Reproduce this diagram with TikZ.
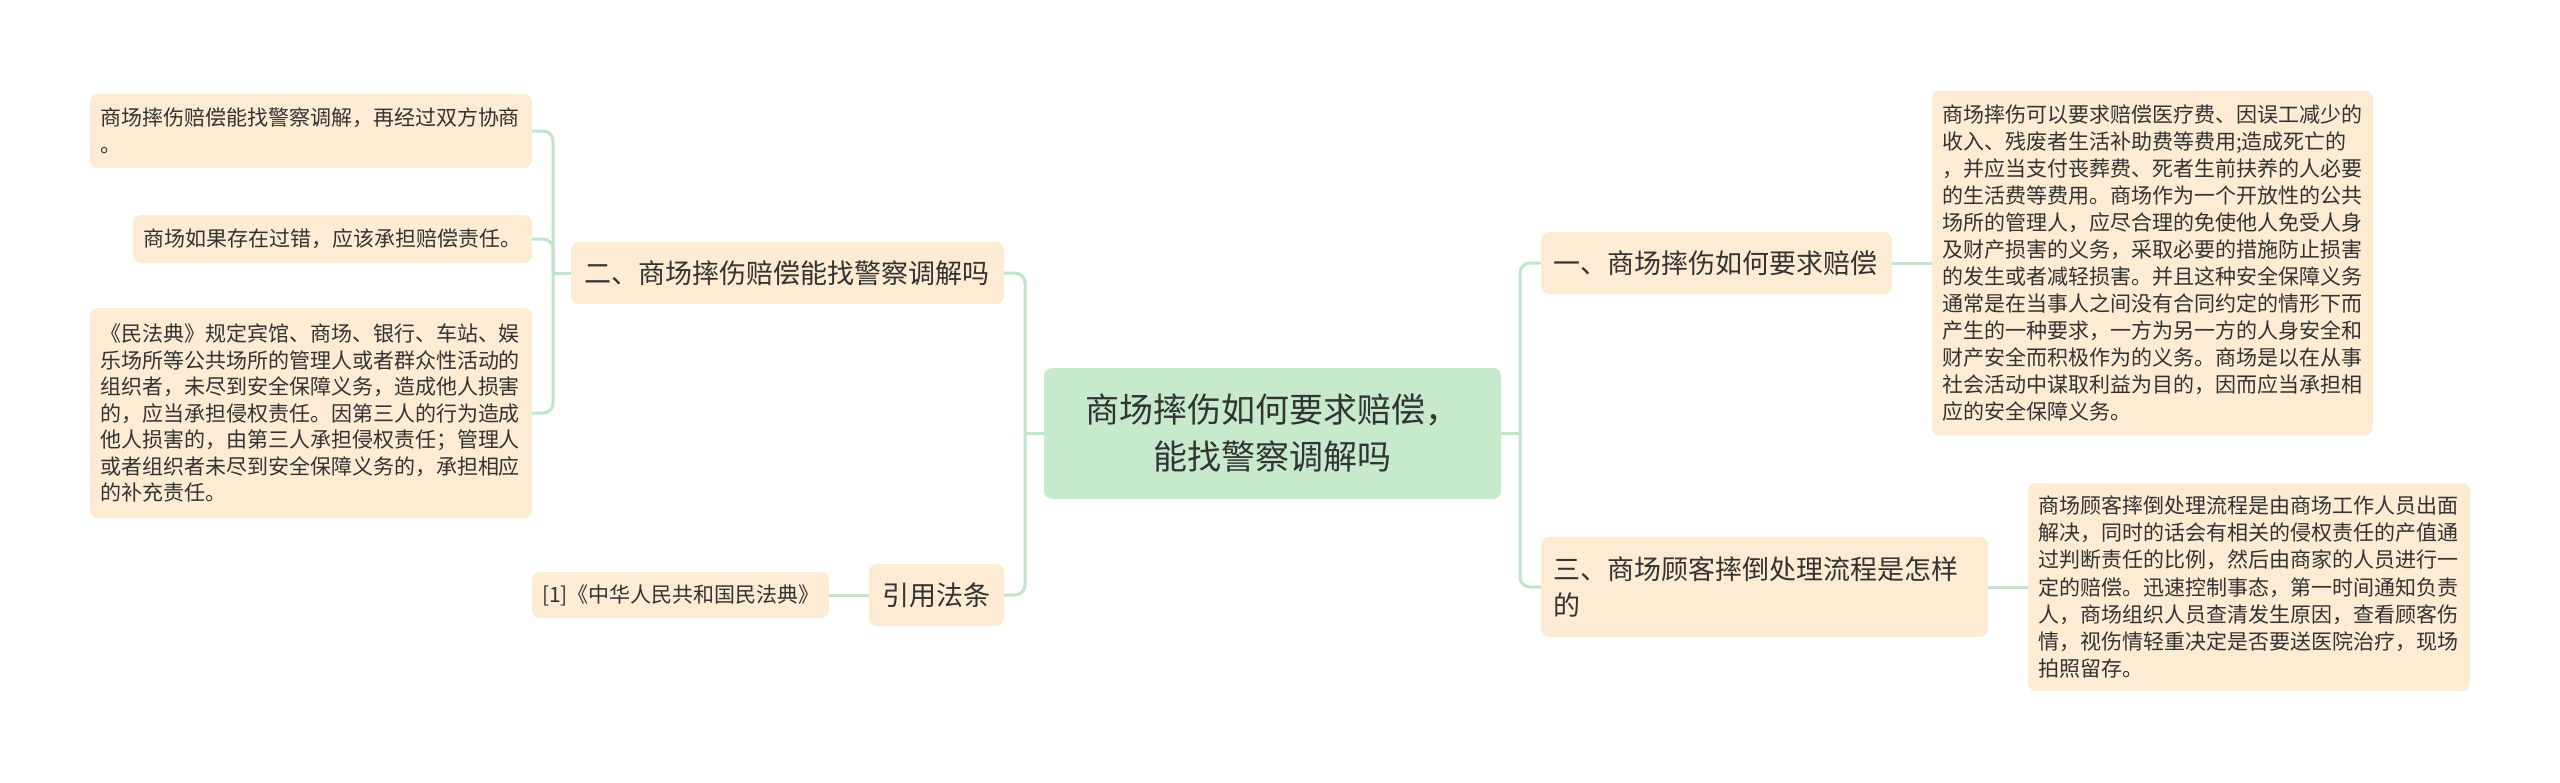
\documentclass[tikz,border=0pt]{standalone}
\usepackage{fontspec}
\setmainfont{Noto Sans CJK SC}
\usetikzlibrary{arrows.meta}
\definecolor{peach}{HTML}{FDEBD4}
\definecolor{rootg}{HTML}{C6EACB}
\definecolor{linkc}{HTML}{C0E5C9}
\definecolor{ink}{HTML}{333333}

\begin{document}
\begin{tikzpicture}[x=1pt,y=-1pt,
  box/.style={fill=peach,rounded corners=8pt,text=ink,inner ysep=0pt},
  leaf/.style={box,align=left,inner xsep=10pt,font=\fontsize{21}{27}\selectfont},
  branch/.style={box,align=left,inner xsep=12pt,minimum height=62pt,font=\fontsize{27}{36}\selectfont},
  rootbox/.style={fill=rootg,rounded corners=8pt,text=ink,align=center,font=\fontsize{34}{47}\selectfont},
  link/.style={draw=linkc,line width=3pt,rounded corners=10pt}]
  \useasboundingbox (0,0) rectangle (2560,782);
  % tema central
  \node[rootbox,minimum width=457pt,minimum height=131pt] (root) at (1272.5,433.5){商场摔伤如何要求赔偿，\\能找警察调解吗};
  % --- lado derecho ---
  \node[branch,text width=327pt] (b1) at (1716.5,263){一、商场摔伤如何要求赔偿};
  \node[branch,text width=423pt,minimum height=100pt] (b3) at (1764.5,587){三、商场顾客摔倒处理流程是怎样\\的};
  \node[leaf,text width=421pt,minimum height=345pt] (l1) at (2152.5,263){%
商场摔伤可以要求赔偿医疗费、因误工减少的\\%
收入、残废者生活补助费等费用;造成死亡的\\%
，并应当支付丧葬费、死者生前扶养的人必要\\%
的生活费等费用。商场作为一个开放性的公共\\%
场所的管理人，应尽合理的免使他人免受人身\\%
及财产损害的义务，采取必要的措施防止损害\\%
的发生或者减轻损害。并且这种安全保障义务\\%
通常是在当事人之间没有合同约定的情形下而\\%
产生的一种要求，一方为另一方的人身安全和\\%
财产安全而积极作为的义务。商场是以在从事\\%
社会活动中谋取利益为目的，因而应当承担相\\%
应的安全保障义务。};
  \node[leaf,text width=422pt,minimum height=208pt,font=\fontsize{21}{27.2}\selectfont] (l3) at (2249,587){%
商场顾客摔倒处理流程是由商场工作人员出面\\%
解决，同时的话会有相关的侵权责任的产值通\\%
过判断责任的比例，然后由商家的人员进行一\\%
定的赔偿。迅速控制事态，第一时间通知负责\\%
人，商场组织人员查清发生原因，查看顾客伤\\%
情，视伤情轻重决定是否要送医院治疗，现场\\%
拍照留存。};
  % --- lado izquierdo ---
  \node[branch,text width=407pt,inner xsep=13pt] (b2) at (787.5,273){二、商场摔伤赔偿能找警察调解吗};
  \node[branch,align=center,minimum width=135pt] (cite) at (936.5,595){引用法条};
  \node[leaf,text width=422pt,minimum height=74pt] (la) at (311,131){商场摔伤赔偿能找警察调解，再经过双方协商\\。};
  \node[leaf,text width=379pt,minimum height=48pt] (lb) at (332.5,239){商场如果存在过错，应该承担赔偿责任。};
  \node[leaf,text width=422pt,minimum height=210pt,font=\fontsize{21}{26.5}\selectfont] (lc) at (311,413){%
《民法典》规定宾馆、商场、银行、车站、娱\\%
乐场所等公共场所的管理人或者群众性活动的\\%
组织者，未尽到安全保障义务，造成他人损害\\%
的，应当承担侵权责任。因第三人的行为造成\\%
他人损害的，由第三人承担侵权责任；管理人\\%
或者组织者未尽到安全保障义务的，承担相应\\%
的补充责任。};
  \node[leaf,text width=277pt,minimum height=46pt] (ref) at (680.5,595){[1]《中华人民共和国民法典》};
  % conectores
  \coordinate (ltrunk) at (1025,433.5);
  \coordinate (rtrunk) at (1520,433.5);
  \coordinate (ltrunk2) at (553,273);
  \draw[link] (root.west) -- (ltrunk);
  \draw[link] (ltrunk) |- (b2.east);
  \draw[link] (ltrunk) |- (cite.east);
  \draw[link] (root.east) -- (rtrunk);
  \draw[link] (rtrunk) |- (b1.west);
  \draw[link] (rtrunk) |- (b3.west);
  \draw[link] (b1.east) -- (l1.west);
  \draw[link] (b3.east) -- (l3.west);
  \draw[link] (b2.west) -- (ltrunk2);
  \draw[link] (ltrunk2) |- (la.east);
  \draw[link] (ltrunk2) |- (lb.east);
  \draw[link] (ltrunk2) |- (lc.east);
  \draw[link] (cite.west) -- (ref.east);
\end{tikzpicture}
\end{document}
